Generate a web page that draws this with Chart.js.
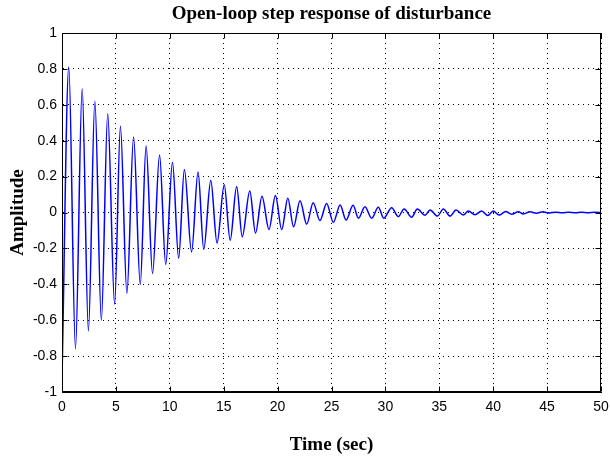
<!DOCTYPE html>
<html>
<head>
<meta charset="utf-8">
<script src="https://cdn.jsdelivr.net/npm/chart.js@4.4.1/dist/chart.umd.min.js"></script>
<style>
  html, body { margin: 0; padding: 0; background: #ffffff; }
  #wrap { width: 610px; height: 458px; }
</style>
</head>
<body>
<div id="wrap"><canvas id="c" width="610" height="458"></canvas></div>
<script>
// ---- data (peaks / troughs of the response) ----
const timeSec = [
  0, 0.63, 1.25, 1.87, 2.45, 3.05, 3.65, 4.24, 4.88, 5.42,
  6.02, 6.64, 7.26, 7.80, 8.40, 9.05, 9.62, 10.25, 10.82, 11.35,
  12.02, 12.62, 13.15, 13.80, 14.38, 15.05, 15.60, 16.20, 16.72, 17.42,
  17.95, 18.55, 19.20, 19.80, 20.38, 20.95, 21.48, 22.08, 22.70, 23.30,
  23.93, 24.55, 25.17, 25.80, 26.35, 27.00, 27.50, 28.10, 28.73, 29.34,
  29.85, 30.58, 31.20, 31.73, 32.44, 32.96, 33.68, 34.14, 34.82, 35.38,
  36.00, 36.55, 37.23, 37.69, 38.31, 38.93, 39.50, 40.00, 40.54, 41.16,
  41.71, 42.33, 42.80, 43.40, 44.00, 44.60, 45.20, 45.80, 46.40, 47.00,
  47.60, 48.20, 48.80, 49.40, 50.00
];
const amplitude = [
  -0.92, 0.81, -0.76, 0.69, -0.66, 0.62, -0.60, 0.55, -0.51, 0.48,
  -0.45, 0.42, -0.40, 0.37, -0.34, 0.32, -0.29, 0.28, -0.255, 0.24,
  -0.22, 0.225, -0.205, 0.18, -0.17, 0.155, -0.155, 0.145, -0.135, 0.12,
  -0.115, 0.09, -0.095, 0.095, -0.095, 0.08, -0.08, 0.065, -0.065, 0.055,
  -0.045, 0.05, -0.055, 0.042, -0.042, 0.04, -0.032, 0.032, -0.032, 0.029,
  -0.032, 0.027, -0.023, 0.02, -0.026, 0.019, -0.015, 0.014, -0.02, 0.02,
  -0.02, 0.014, -0.014, 0.009, -0.013, 0.009, -0.017, 0.008, -0.014, 0.005,
  -0.01, 0.004, -0.008, 0.004, -0.004, 0.004, -0.003, 0.002, -0.002, 0.002,
  -0.001, 0.001, -0.001, 0.001, 0.0
];
const xTicks = [0, 5, 10, 15, 20, 25, 30, 35, 40, 45, 50];
const yTicks = [-1, -0.8, -0.6, -0.4, -0.2, 0, 0.2, 0.4, 0.6, 0.8, 1];
const titleText = 'Open-loop step response of disturbance';
const xTitle = 'Time (sec)';
const yTitle = 'Amplitude';

const serifBold = { family: "'Liberation Serif', 'Times New Roman', serif", size: 19, weight: 'bold' };
const tickFont = { family: "'Liberation Sans Narrow', 'Liberation Sans', Arial, sans-serif", size: 14 };

// draws the MATLAB-style box and inward tick marks using the chart's scales
const axesBox = {
  id: 'axesBox',
  afterDraw(chart) {
    const { ctx, chartArea: a, scales: { x, y } } = chart;
    const L = 5;
    ctx.save();
    ctx.strokeStyle = '#000';
    ctx.lineWidth = 1;
    const l = Math.round(a.left) + 0.5, r = Math.round(a.right) - 0.5;
    const t = Math.round(a.top) + 0.5, b = Math.round(a.bottom) - 0.5;
    ctx.strokeRect(l, t, r - l, b - t);
    ctx.beginPath();
    xTicks.forEach(v => {
      const px = Math.round(x.getPixelForValue(v)) + 0.5;
      ctx.moveTo(px, b); ctx.lineTo(px, b - L);
      ctx.moveTo(px, t); ctx.lineTo(px, t + L);
    });
    yTicks.forEach(v => {
      const py = Math.round(y.getPixelForValue(v)) + 0.5;
      ctx.moveTo(l, py); ctx.lineTo(l + L, py);
      ctx.moveTo(r, py); ctx.lineTo(r - L, py);
    });
    ctx.stroke();
    ctx.restore();
  }
};

new Chart(document.getElementById('c'), {
  type: 'line',
  data: {
    datasets: [{
      data: timeSec.map((t, i) => ({ x: t, y: amplitude[i] })),
      borderColor: '#0000ff',
      borderWidth: 1.5,
      pointRadius: 0,
      fill: false,
      cubicInterpolationMode: 'monotone'
    }]
  },
  options: {
    responsive: false,
    animation: false,
    devicePixelRatio: 1,
    layout: { padding: { left: 0, right: 9, top: 0, bottom: 0 } },
    plugins: {
      legend: { display: false },
      tooltip: { enabled: false },
      title: {
        display: true,
        fullSize: false,
        text: titleText,
        color: '#000',
        font: serifBold,
        padding: { top: 3, bottom: 7.2 }
      }
    },
    scales: {
      x: {
        type: 'linear',
        min: 0, max: 50,
        afterBuildTicks: s => { s.ticks = xTicks.map(v => ({ value: v })); },
        afterFit: s => { s.height = 66; s.paddingLeft = 0; s.paddingRight = 0; },
        ticks: { color: '#000', font: tickFont, padding: 7, maxRotation: 0, autoSkip: false },
        grid: { color: '#000', lineWidth: 1, drawTicks: false },
        border: { display: true, color: '#000', dash: [1, 4] },
        title: { display: true, text: xTitle, color: '#000', font: serifBold, padding: { top: 0, bottom: 1.6 } }
      },
      y: {
        type: 'linear',
        min: -1, max: 1,
        afterBuildTicks: s => { s.ticks = yTicks.map(v => ({ value: v })); },
        afterFit: s => { s.width = 62; },
        ticks: {
          color: '#000', font: tickFont, padding: 5, autoSkip: false,
          callback: v => String(Math.round(v * 10) / 10)
        },
        grid: { color: '#000', lineWidth: 1, drawTicks: false },
        border: { display: true, color: '#000', dash: [1, 4] },
        title: { display: true, text: yTitle, color: '#000', font: serifBold, padding: { top: 6.6, bottom: 0 } }
      }
    }
  },
  plugins: [axesBox]
});
</script>
</body>
</html>
